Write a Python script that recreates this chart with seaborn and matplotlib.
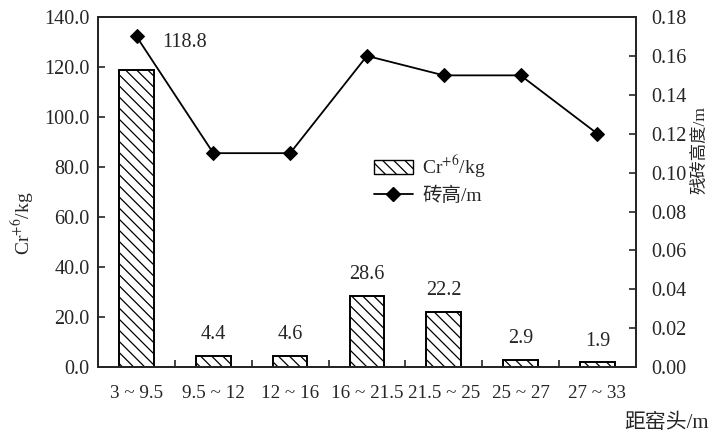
import matplotlib
matplotlib.use('Agg')
import matplotlib.pyplot as plt
import seaborn as sns
import pandas as pd
from matplotlib.lines import Line2D
from matplotlib.patches import Patch

# Данные
categories = ['3 ~ 9.5', '9.5 ~ 12', '12 ~ 16', '16 ~ 21.5', '21.5 ~ 25', '25 ~ 27', '27 ~ 33']
cr_kg = [118.8, 4.4, 4.6, 28.6, 22.2, 2.9, 1.9]
brick_h = [0.17, 0.11, 0.11, 0.16, 0.15, 0.15, 0.12]

sns.set_style('ticks')
plt.rcParams['font.family'] = ['Liberation Serif', 'Noto Sans CJK SC']
plt.rcParams['mathtext.fontset'] = 'stix'
plt.rcParams['hatch.linewidth'] = 0.9

df = pd.DataFrame({'cat': categories, 'cr': cr_kg, 'h': brick_h})

fig = plt.figure(figsize=(7.16, 4.36), dpi=100)
ax = fig.add_axes([0.137, 0.158, 0.751, 0.803])

sns.barplot(data=df, x='cat', y='cr', ax=ax, color='white', edgecolor='black',
            linewidth=1.4, width=0.45, hatch='\\\\\\')
ax.set_xlim(-0.5, 6.5)
ax.set_ylim(0, 140)
ax.set_yticks(range(0, 141, 20))
ax.set_yticklabels([f'{v:.1f}' for v in range(0, 141, 20)], fontsize=14.5)
ax.set_xticks(range(7))
ax.set_xticklabels(categories, fontsize=13.8)
ax.tick_params(axis='x', length=0, pad=13)
ax.set_xticks([i + 0.5 for i in range(6)], minor=True)
ax.tick_params(axis='x', which='minor', direction='in', length=5, width=1.2)
ax.tick_params(axis='y', direction='in', length=5, width=1.2, pad=6)
ax.set_xlabel('')
ax.set_ylabel('Cr$^{+6}$/kg', fontsize=14)
ax.yaxis.set_label_coords(-0.115, 0.41)
for s in ax.spines.values():
    s.set_linewidth(1.4)

# подписи значений
for i, v in enumerate(cr_kg):
    if i == 0:
        ax.text(i + 0.63, 130, f'{v}', ha='center', va='center', fontsize=14.5)
    else:
        ax.text(i, v + 8.5, f'{v}', ha='center', va='center', fontsize=14.5)

ax2 = ax.twinx()
sns.lineplot(x=list(range(7)), y=brick_h, ax=ax2, color='black', linewidth=1.3,
             marker='D', markersize=7, markeredgecolor='black')
ax2.set_ylim(0, 0.18)
ax2.set_yticks([i * 0.02 for i in range(10)])
ax2.set_yticklabels([f'{i * 0.02:.2f}' for i in range(10)], fontsize=14.5)
ax2.tick_params(axis='y', direction='in', length=5, width=1.2, pad=11)
ax2.set_ylabel('')
for s in ax2.spines.values():
    s.set_linewidth(1.4)
fig.text(0.978, 0.655, '残砖高度/m', rotation=90, ha='center', va='center', fontsize=12.5)

handles = [Patch(facecolor='white', edgecolor='black', hatch='\\\\\\', label='Cr$^{+6}$/kg'),
           Line2D([0], [0], color='black', marker='D', markersize=7, linewidth=1.3, label='砖高/m')]
ax2.legend(handles=handles, loc='upper left', bbox_to_anchor=(0.48, 0.66), frameon=False,
           fontsize=14, handlelength=2.0, labelspacing=0.35, handletextpad=0.5)

fig.text(0.99, 0.03, '距窑头/m', ha='right', va='center', fontsize=15)

fig.savefig('out.png', dpi=100)
